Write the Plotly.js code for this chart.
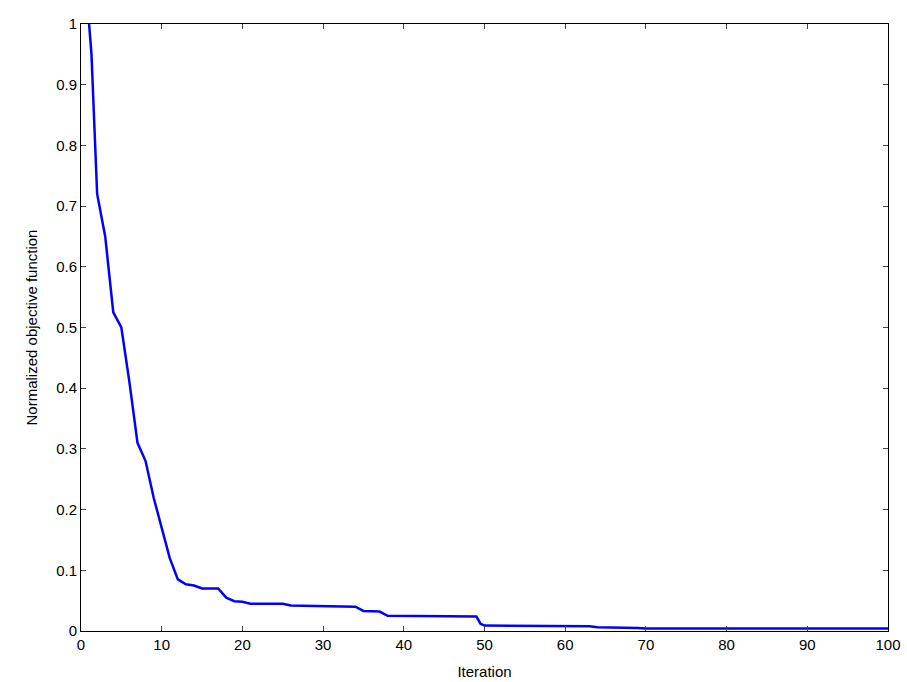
<!DOCTYPE html>
<html><head><meta charset="utf-8">
<script src="https://cdn.plot.ly/plotly-3.0.1.min.js"></script>
<style>body{margin:0;background:#fff}#c{width:907px;height:682px}</style>
</head><body><div id="c"></div>
<script>
const iterations = [1,1.3,2,3,4,5,6,7,8,9,10,11,12,13,14,15,16,17,18,19,20,21,25,26,29,34,35,37,38,49,49.5,50,63,64,69,70,100];
const objective = [1.0,0.95,0.72,0.65,0.525,0.50,0.41,0.31,0.28,0.22,0.17,0.12,0.085,0.077,0.075,0.07,0.07,0.07,0.055,0.049,0.048,0.045,0.045,0.042,0.041,0.04,0.033,0.032,0.025,0.024,0.012,0.009,0.008,0.006,0.005,0.004,0.004];
const xTicks = [0,10,20,30,40,50,60,70,80,90,100];
const yTicks = [0,0.1,0.2,0.3,0.4,0.5,0.6,0.7,0.8,0.9,1];
Plotly.newPlot('c',[{x:iterations,y:objective,mode:'lines',line:{color:'#0000ff',width:2.5},hoverinfo:'skip'}],{
 width:907,height:682,margin:{l:81,r:19,t:24,b:51},
 paper_bgcolor:'#fff',plot_bgcolor:'#fff',showlegend:false,
 font:{family:'Liberation Sans, Arial, sans-serif',size:15,color:'#000'},
 xaxis:{range:[0,100],tickvals:xTicks,ticks:'inside',ticklen:5,mirror:'ticks',showline:true,linecolor:'#000',showgrid:false,zeroline:false,title:{text:'Iteration',standoff:14,font:{size:15}}},
 yaxis:{range:[0,1],tickvals:yTicks,ticks:'inside',ticklen:5,mirror:'ticks',showline:true,linecolor:'#000',showgrid:false,zeroline:false,title:{text:'Normalized objective function',standoff:14,font:{size:15}}}
},{staticPlot:true});
</script></body></html>
